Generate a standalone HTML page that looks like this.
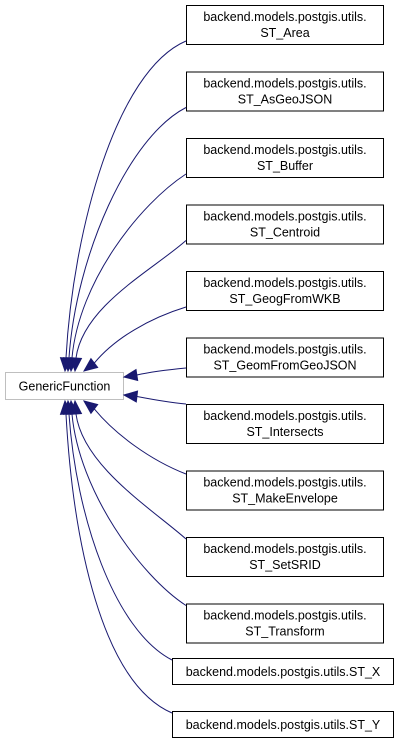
<!DOCTYPE html>
<html><head><style>
body{margin:0;background:#fff;width:404px;height:742px;overflow:hidden}
svg{display:block}
text{font-family:"Liberation Sans",Arial,sans-serif;font-size:12.5px;fill:#000}
</style></head><body>
<svg id="s" width="404" height="742" viewBox="0 0 404 742" xmlns="http://www.w3.org/2000/svg">
<rect x="5.5" y="372.5" width="118" height="27" fill="#fff" stroke="#bfbfbf"/>
<text x="64.5" y="390.5" text-anchor="middle">GenericFunction</text>
</svg>
<script>
const s=document.getElementById('s'),NS='http://www.w3.org/2000/svg';
function el(t,a,txt){const e=document.createElementNS(NS,t);for(const k in a)e.setAttribute(k,a[k]);if(txt)e.textContent=txt;s.appendChild(e);return e;}
const names=['ST_Area','ST_AsGeoJSON','ST_Buffer','ST_Centroid','ST_GeogFromWKB','ST_GeomFromGeoJSON','ST_Intersects','ST_MakeEnvelope','ST_SetSRID','ST_Transform'];
const nodes=[];
names.forEach((n,i)=>{const y=5+i*66.5;nodes.push({x:186,y:y,h:39});
el('rect',{x:186.5,y:y+0.5,width:197,height:39,fill:'#fff',stroke:'#000'});
el('text',{x:285,y:y+16,'text-anchor':'middle'},'backend.models.postgis.utils.');
el('text',{x:285,y:y+32,'text-anchor':'middle'},n);});
[['ST_X',658],['ST_Y',711]].forEach(([n,y])=>{nodes.push({x:172,y:y,h:27});
el('rect',{x:172.5,y:y+0.5,width:221,height:26,fill:'#fff',stroke:'#000'});
el('text',{x:283,y:y+18,'text-anchor':'middle'},'backend.models.postgis.utils.'+n);});
function arrow(p,q){
 const dx=q[0]-p[0],dy=q[1]-p[1],L=Math.hypot(dx,dy),ux=dx/L,uy=dy/L,bx=q[0]-ux*13,by=q[1]-uy*13;
 el('polygon',{points:`${q[0]},${q[1]} ${bx-uy*5.5},${by+ux*5.5} ${bx+uy*5.5},${by-ux*5.5}`,fill:'#191970',stroke:'#191970'});
 return [bx,by];}
const tips=[65,68,71,75];
nodes.forEach((n,i)=>{let d;
 if(i<=3){const sx=n.x,sy=n.y+n.h-3,tx=tips[i],ty=371;
  const b=arrow([tx+1.5,ty-20],[tx,ty]);
  d=`M${sx},${sy} C${sx-70+i*12},${sy+30} ${tx+8},${ty-140+i*25} ${b[0]},${b[1]}`;}
 else if(i==4){const b=arrow([97,361],[84,371]);d=`M186,307 C150,318 115,338 ${b[0]},${b[1]}`;}
 else if(i==5){const b=arrow([150,373],[124,377]);d=`M186,368 C165,370 150,372 ${b[0]},${b[1]}`;}
 else if(i==6){const b=arrow([150,398],[124,395]);d=`M186,404 C165,402 150,399 ${b[0]},${b[1]}`;}
 else if(i==7){const b=arrow([97,411],[84,401]);d=`M186,474 C150,460 115,434 ${b[0]},${b[1]}`;}
 else{const k=i-8;const tx=tips[3-k],ty=401,sx=n.x,sy=n.y+2;
  const b=arrow([tx+1.5,ty+20],[tx,ty]);
  d=`M${sx},${sy} C${sx-70+(3-k)*12},${sy-30} ${tx+8},${ty+140-(3-k)*25} ${b[0]},${b[1]}`;}
 el('path',{d:d,fill:'none',stroke:'#191970','stroke-width':1});});
</script>
</body></html>
